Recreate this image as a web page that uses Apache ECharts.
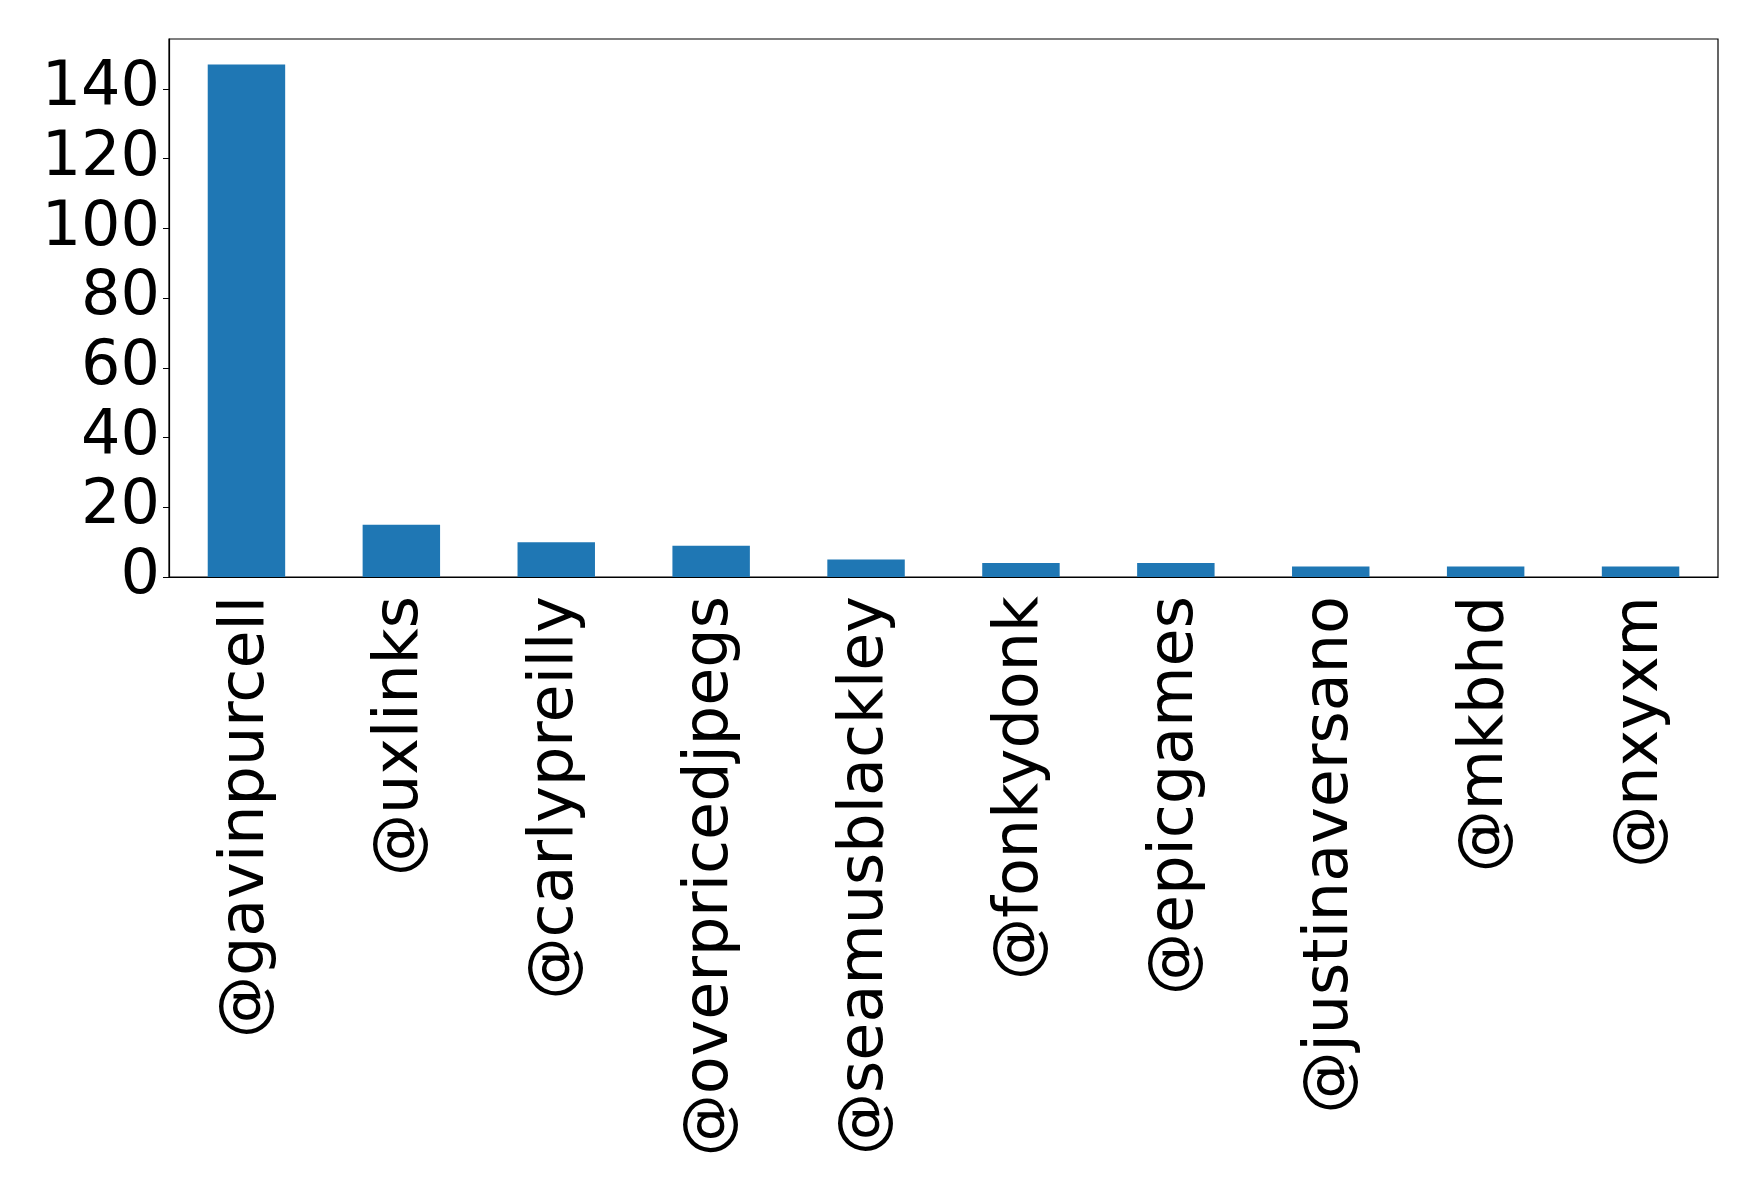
<!DOCTYPE html>
<html>
<head>
<meta charset="utf-8">
<script src="https://cdn.jsdelivr.net/npm/echarts@6/dist/echarts.min.js"></script>
<style>
  html, body { margin: 0; padding: 0; background: #fff; }
  #chart { width: 1758px; height: 1193px; }
</style>
</head>
<body>
<div id="chart"></div>
<script>
const accounts = ['@gavinpurcell', '@uxlinks', '@carlypreilly', '@overpricedjpegs', '@seamusblackley',
  '@fonkydonk', '@epicgames', '@justinaversano', '@mkbhd', '@nxyxm']
const counts = [147, 15, 10, 9, 5, 4, 4, 3, 3, 3]
const yMax = 154.35
const yStep = 20

const font = 'DejaVu Sans'
const chart = echarts.init(document.getElementById('chart'))

chart.setOption({
  animation: false,
  grid: {
    left: 169,
    top: 39,
    width: 1549,
    height: 538,
    containLabel: false,
    outerBoundsMode: 'none',
    show: true,
    borderColor: '#000',
    borderWidth: 1.2
  },
  xAxis: {
    type: 'category',
    data: accounts,
    axisLine: { lineStyle: { color: '#000', width: 1.2 } },
    axisTick: { alignWithLabel: true, length: 6, lineStyle: { color: '#000' } },
    axisLabel: {
      rotate: 90,
      interval: 0,
      margin: 19,
      padding: [9, 0, 0, 0],
      color: '#000',
      fontFamily: font,
      fontSize: 62
    }
  },
  yAxis: {
    type: 'value',
    min: 0,
    max: yMax,
    interval: yStep,
    splitLine: { show: false },
    axisLine: { show: true, lineStyle: { color: '#000', width: 1.2 } },
    axisTick: { show: true, length: 6, lineStyle: { color: '#000' } },
    axisLabel: {
      showMaxLabel: false,
      margin: 9,
      padding: [6, 0, 0, 0],
      color: '#000',
      fontFamily: font,
      fontSize: 62,
      formatter: (v) => (v % yStep === 0 ? String(v) : '')
    }
  },
  series: [
    {
      type: 'bar',
      data: counts,
      barWidth: '50%',
      itemStyle: { color: '#1f77b4' }
    }
  ]
})
</script>
</body>
</html>
